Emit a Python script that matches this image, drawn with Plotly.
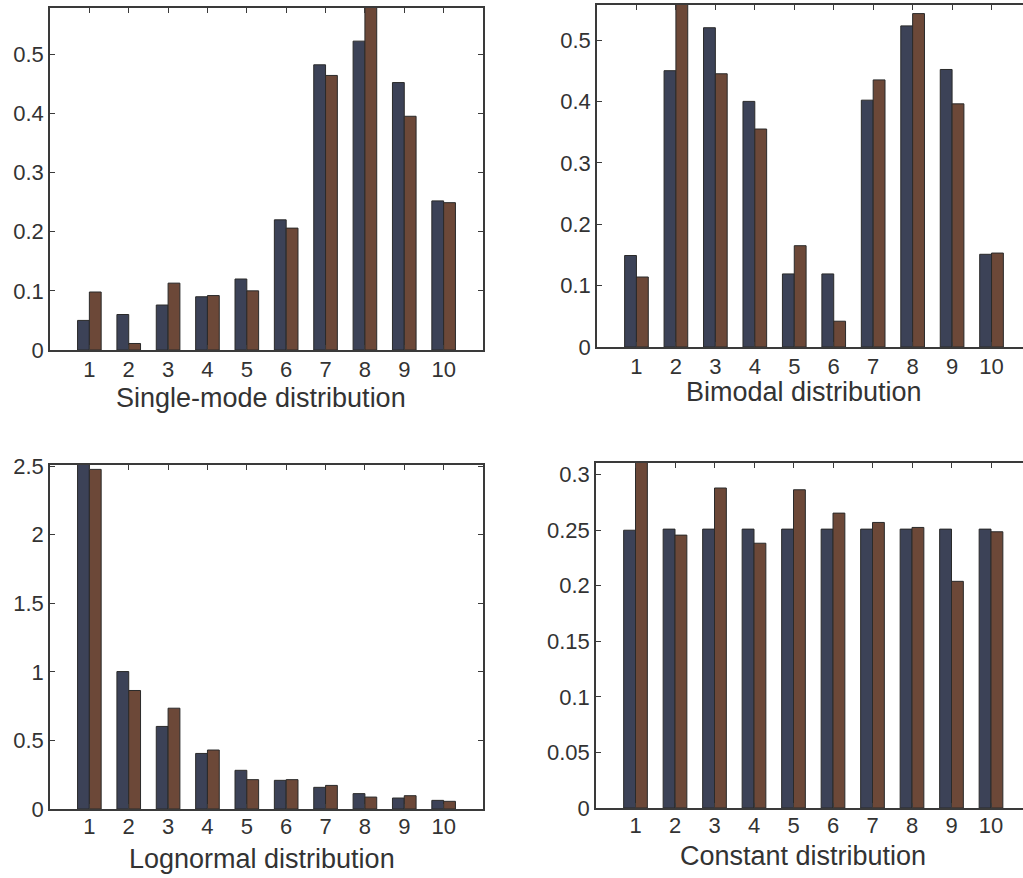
import plotly.graph_objects as go

W, H = 1023, 878

categories = [1, 2, 3, 4, 5, 6, 7, 8, 9, 10]

single_a = [0.050, 0.060, 0.076, 0.090, 0.120, 0.220, 0.482, 0.522, 0.452, 0.252]
single_b = [0.098, 0.011, 0.113, 0.092, 0.100, 0.206, 0.464, 0.600, 0.395, 0.249]

bimodal_a = [0.149, 0.450, 0.520, 0.400, 0.119, 0.119, 0.402, 0.523, 0.452, 0.151]
bimodal_b = [0.114, 0.580, 0.445, 0.355, 0.165, 0.042, 0.435, 0.543, 0.396, 0.153]

lognormal_a = [2.55, 1.002, 0.602, 0.405, 0.282, 0.209, 0.158, 0.112, 0.080, 0.063]
lognormal_b = [2.476, 0.864, 0.735, 0.430, 0.214, 0.214, 0.172, 0.087, 0.097, 0.056]

constant_a = [0.250, 0.251, 0.251, 0.251, 0.251, 0.251, 0.251, 0.251, 0.251, 0.251]
constant_b = [0.320, 0.2456, 0.288, 0.2383, 0.2864, 0.2654, 0.257, 0.2525, 0.204, 0.2486]

titles = ["Single-mode distribution", "Bimodal distribution",
          "Lognormal distribution", "Constant distribution"]

yticks = [
    [0, 0.1, 0.2, 0.3, 0.4, 0.5],
    [0, 0.1, 0.2, 0.3, 0.4, 0.5],
    [0, 0.5, 1, 1.5, 2, 2.5],
    [0, 0.05, 0.1, 0.15, 0.2, 0.25, 0.3],
]
ytext = [
    ["0", "0.1", "0.2", "0.3", "0.4", "0.5"],
    ["0", "0.1", "0.2", "0.3", "0.4", "0.5"],
    ["0", "0.5", "1", "1.5", "2", "2.5"],
    ["0", "0.05", "0.1", "0.15", "0.2", "0.25", "0.3"],
]
yranges = [[0, 0.578], [0, 0.557], [0, 2.508], [0, 0.3105]]

# panel pixel boxes: left, right, top, bottom
boxes = [
    (50, 483, 8, 350),
    (597, 1023, 5, 347),
    (50, 483, 465, 809),
    (596, 1023, 463, 808),
]
xranges = [[0, 11], [0, (1023 - 596.5) / 39.5], [0, 11], [0, (1023 - 596) / 39.5]]
# title centre positions in pixels (x, y)
title_pos = [(261, 398), (804, 392), (262, 859), (803, 856)]
label_standoff = [-1, -1, -3, -3]

series = [(single_a, single_b), (bimodal_a, bimodal_b),
          (lognormal_a, lognormal_b), (constant_a, constant_b)]

BLUE = "#3c4257"
BROWN = "#6c4838"
AXIS = "#3a3a3a"
TEXT = "#333333"
FONT = "Liberation Sans, Arial, sans-serif"
TICK_SIZE = 22
TITLE_SIZE = 27

fig = go.Figure()
layout = dict(
    width=W, height=H,
    margin=dict(l=0, r=0, t=0, b=0, autoexpand=False),
    paper_bgcolor="white", plot_bgcolor="white",
    showlegend=False,
    barmode="group", bargap=0.4, bargroupgap=0,
    font=dict(family=FONT, color=TEXT, size=TICK_SIZE),
)
annotations = []

for i, (a, b) in enumerate(series):
    n = "" if i == 0 else str(i + 1)
    xa, ya = "x" + n, "y" + n
    for vals, col in ((a, BLUE), (b, BROWN)):
        fig.add_trace(go.Bar(
            x=categories, y=vals, xaxis=xa, yaxis=ya,
            marker=dict(color=col, line=dict(color="#2a2a2a", width=1)),
            offsetgroup=col,
        ))
    l, r, t, btm = boxes[i]
    right_panel = i in (1, 3)
    layout["xaxis" + n] = dict(
        domain=[l / W, r / W], range=xranges[i], anchor=ya,
        tickmode="array", tickvals=categories, ticktext=[str(c) for c in categories],
        ticks="inside", ticklen=5, tickcolor=AXIS, tickwidth=1,
        showline=True, linecolor=AXIS, linewidth=1.5, mirror="ticks",
        showgrid=False, zeroline=False, fixedrange=True, automargin=False,
        ticklabelstandoff=label_standoff[i],
        tickfont=dict(size=TICK_SIZE, color=TEXT, family=FONT),
    )
    layout["yaxis" + n] = dict(
        domain=[(H - btm) / H, (H - t) / H], range=yranges[i], anchor=xa,
        tickmode="array", tickvals=yticks[i], ticktext=ytext[i],
        ticks="inside", ticklen=5, tickcolor=AXIS, tickwidth=1,
        showline=True, linecolor=AXIS, linewidth=1.5,
        mirror=False if right_panel else "ticks",
        showgrid=False, zeroline=False, fixedrange=True, automargin=False,
        tickfont=dict(size=TICK_SIZE, color=TEXT, family=FONT),
    )
    tx, ty = title_pos[i]
    annotations.append(dict(
        text=titles[i], xref="paper", yref="paper",
        x=tx / W, y=(H - ty) / H, xanchor="center", yanchor="middle",
        showarrow=False, font=dict(size=TITLE_SIZE, color=TEXT, family=FONT),
    ))

layout["annotations"] = annotations
fig.update_layout(**layout)
fig.write_html("out.html")
